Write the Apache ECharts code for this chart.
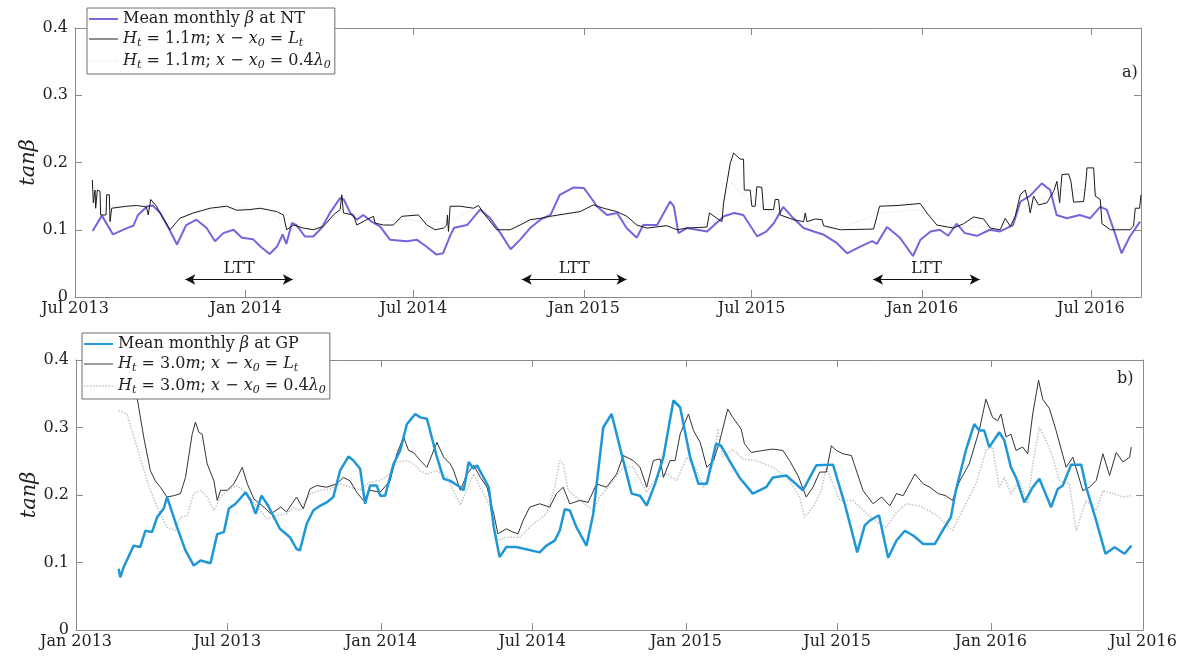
<!DOCTYPE html>
<html>
<head>
<meta charset="utf-8">
<script src="https://cdn.jsdelivr.net/npm/echarts@6/dist/echarts.min.js"></script>
<style>
html,body{margin:0;padding:0;background:#fff;}
#chart{width:1188px;height:659px;}
</style>
</head>
<body>
<div id="chart"></div>
<script>
// ---------- DATA ----------
// Panel a) Narrabeen (NT): x = days since 2013-07-01
const ntBase = '2013-07-01';
const ntEnd = '2016-08-24';
const ntTicks = ['2013-07-01','2014-01-01','2014-07-01','2015-01-01','2015-07-01','2016-01-01','2016-07-01'];

const ntMeanDays = [19,29,41,56,63,68,78,84,92,101,110,120,131,142,151,160,171,180,192,200,210,218,224,228,234,239,248,257,266,275,286,290,297,304,311,320,329,340,358,369,379,390,397,405,409,423,437,448,459,470,480,491,502,513,523,538,549,558,563,574,585,595,606,613,628,642,646,651,660,682,700,711,721,736,746,754,764,775,786,797,808,822,833,847,860,865,876,890,904,912,923,933,942,951,960,973,987,998,1012,1020,1030,1043,1052,1059,1070,1084,1095,1106,1113,1120,1129,1138,1149];
const ntMeanVals = [.098,.121,.093,.1025,.106,.122,.135,.136,.125,.1025,.078,.107,.115,.1025,.083,.095,.10,.088,.086,.075,.064,.075,.093,.079,.11,.107,.09,.09,.1025,.125,.147,.145,.125,.115,.122,.112,.105,.085,.083,.085,.075,.063,.065,.092,.103,.107,.13,.117,.095,.071,.085,.1025,.115,.122,.152,.163,.162,.145,.135,.122,.125,.1025,.088,.107,.107,.142,.135,.095,.1025,.0975,.12,.125,.122,.09,.0975,.11,.134,.117,.1025,.0975,.0925,.08,.065,.075,.083,.079,.104,.088,.061,.085,.0975,.10,.091,.109,.095,.091,.10,.0975,.107,.142,.15,.169,.159,.122,.117,.122,.117,.134,.13,.1025,.065,.09,.112];

const ntLtDays = [18.7,19.8,21.6,22.3,24.1,27,27.7,33.5,34.2,37,37.8,39.6,41.4,55.8,66.5,77,79,81.7,88,91.7,102.5,113,127.7,145.7,163.7,174.5,188.8,199.6,217.6,224.8,228.4,235.6,246.4,257.2,268,278.8,286,287.8,289.6,300.4,304,314.7,322,323.7,332.7,343.5,352.5,370.5,379.5,388.5,397.5,401,401.8,402.9,404.7,415.5,430,435.3,440.7,455,469.4,480.2,491,501.8,512.6,530.6,545,552.2,559.4,570.2,584.5,595.3,606.1,617,638.5,649.3,660.1,681.7,684.5,692.5,697.9,699.7,706.9,710.5,717.6,721.2,722,728.4,730.2,733.8,735.6,741,742.8,753.6,755.4,759,760.8,775.2,786,787.8,789.6,798.6,805.8,807.6,825.6,861.5,868,886.6,911.8,919,929.8,947.8,958.6,969.4,980.2,987.4,998.1,1003.5,1009,1014.3,1019.7,1025.1,1028.7,1030.5,1034.1,1039.5,1048.5,1055.7,1059.3,1062.2,1064.7,1071.9,1074.4,1077.3,1088.1,1090.6,1091.7,1098.9,1100.7,1106.1,1107.9,1116.9,1138.4,1142,1143.8,1148.5,1150];
const ntLtVals = [.174,.140,.159,.132,.159,.157,.122,.122,.152,.152,.112,.132,.134,.135,.136,.134,.122,.145,.135,.125,.10,.117,.125,.132,.135,.129,.13,.132,.127,.122,.10,.107,.1025,.10,.105,.122,.13,.152,.125,.122,.107,.115,.12,.11,.107,.107,.12,.122,.107,.10,.1025,.107,.122,.0975,.135,.135,.132,.136,.125,.10,.10,.107,.115,.117,.12,.124,.127,.132,.137,.132,.127,.12,.107,.1025,.106,.10,.1025,.104,.125,.117,.112,.14,.199,.214,.205,.205,.159,.159,.135,.135,.164,.163,.13,.13,.145,.145,.122,.115,.112,.125,.112,.116,.115,.106,.10,.101,.135,.136,.139,.125,.107,.1025,.109,.119,.116,.1025,.10,.117,.105,.12,.152,.159,.14,.125,.15,.137,.14,.157,.172,.14,.182,.183,.172,.141,.142,.172,.192,.192,.15,.145,.109,.10,.10,.106,.132,.132,.152];

const ntLamDays = [19,40,80,100,130,170,210,228,260,290,320,360,400,430,470,520,560,600,650,690,708,730,770,820,870,910,950,1000,1030,1070,1100,1115,1140];
const ntLamVals = [.155,.135,.13,.11,.125,.133,.13,.105,.10,.13,.115,.115,.11,.13,.105,.12,.13,.11,.105,.11,.17,.14,.115,.10,.125,.13,.105,.105,.14,.16,.16,.105,.10];

// LTT periods (panel a)
const lttStart = ['2013-10-28','2014-10-26','2015-11-09'];
const lttEnd   = ['2014-02-21','2015-02-16','2016-03-03'];
const lttLevel = 0.026;

// Panel b) Gold Coast (GP): x = days since 2013-01-01
const gpBase = '2013-01-01';
const gpEnd = '2016-07-01';
const gpTicks = ['2013-01-01','2013-07-01','2014-01-01','2014-07-01','2015-01-01','2015-07-01','2016-01-01','2016-07-01'];

const gpMeanDays = [51,53,57,69,77,83,91,97,105,109,121,131,141,149,161,169,177,183,191,203,209,215,222,230,244,256,264,268,276,284,292,300,308,316,326,332,340,346,352,360,364,370,380,388,396,406,412,420,432,440,448,460,464,470,476,480,494,500,507,515,527,555,563,573,579,585,591,599,611,619,631,641,655,665,675,683,693,703,715,723,735,745,755,766,772,782,794,810,826,834,850,870,886,906,914,920,935,944,950,961,972,982,992,1002,1014,1028,1037,1047,1053,1065,1075,1081,1087,1093,1105,1111,1119,1125,1135,1145,1153,1167,1175,1181,1191,1203,1209,1221,1232,1243,1255,1263];
const gpMeanVals = [.0906,.078,.093,.125,.123,.147,.145,.167,.18,.197,.152,.118,.0955,.103,.099,.142,.145,.18,.187,.204,.192,.172,.199,.184,.15,.1375,.12,.118,.157,.177,.184,.189,.197,.236,.257,.251,.239,.187,.214,.214,.199,.199,.246,.266,.305,.32,.315,.313,.256,.224,.221,.2115,.207,.249,.239,.244,.2115,.152,.108,.123,.123,.115,.125,.1325,.1475,.179,.177,.152,.125,.172,.30,.32,.251,.202,.199,.1845,.2165,.256,.34,.33,.256,.2165,.2165,.276,.273,.251,.226,.202,.2115,.226,.229,.207,.244,.245,.2115,.187,.115,.155,.162,.17,.107,.1325,.147,.14,.1275,.1275,.147,.167,.2065,.266,.305,.2955,.2955,.271,.293,.281,.241,.226,.189,.2115,.224,.182,.209,.214,.245,.245,.2115,.162,.113,.1225,.113,.125];

const gpLtDays = [55,73,81,89,95,101,109,117,125,131,139,143,147,151,157,165,169,173,181,189,199,205,213,225,233,245,252,264,272,280,288,300,312,320,328,336,344,352,364,376,384,392,398,404,412,420,432,440,448,452,460,468,476,484,492,500,505,515,523,529,535,543,555,567,575,583,591,603,613,623,635,647,655,667,675,683,691,699,703,711,717,723,733,739,747,755,763,770,780,786,796,800,808,822,834,846,854,864,874,882,890,898,904,910,918,928,934,942,954,964,974,982,990,1004,1014,1022,1032,1041,1049,1057,1069,1081,1089,1097,1103,1107,1113,1119,1125,1133,1139,1145,1152,1157,1165,1173,1185,1193,1205,1213,1221,1229,1237,1245,1253,1261,1263];
const gpLtVals = [.39,.345,.286,.236,.221,.2115,.197,.199,.202,.226,.29,.308,.293,.29,.246,.221,.192,.207,.207,.2165,.241,.2165,.194,.182,.172,.182,.175,.197,.1795,.209,.214,.2115,.2165,.226,.221,.204,.192,.207,.204,.2215,.261,.286,.266,.263,.251,.241,.278,.256,.246,.236,.207,.231,.244,.226,.2115,.172,.1425,.15,.145,.1425,.162,.182,.187,.182,.202,.2115,.187,.192,.189,.2165,.2115,.231,.2585,.251,.241,.2115,.251,.2535,.226,.251,.251,.29,.32,.2955,.278,.241,.251,.278,.3275,.315,.298,.276,.263,.266,.268,.266,.251,.229,.197,.2115,.234,.234,.273,.266,.261,.2585,.236,.2065,.187,.197,.184,.202,.199,.231,.2165,.2115,.202,.199,.192,.219,.246,.2955,.342,.315,.31,.32,.286,.29,.266,.271,.261,.32,.37,.342,.328,.2955,.241,.256,.2065,.2115,.2215,.261,.229,.263,.249,.256,.271];

const gpLamDays = [51,61,73,85,97,109,119,125,133,141,149,157,165,173,181,193,205,217,229,241,252,260,268,280,292,304,316,328,340,352,364,376,384,396,404,412,420,432,444,460,476,496,505,515,531,547,563,573,579,583,589,603,619,627,643,655,667,683,695,707,719,731,741,751,763,768,774,786,798,814,834,854,866,872,882,892,898,906,914,930,942,958,970,982,994,1010,1030,1049,1061,1077,1089,1097,1105,1111,1119,1129,1139,1145,1153,1161,1169,1177,1189,1197,1209,1221,1229,1241,1253,1263];
const gpLamVals = [.325,.32,.271,.2215,.182,.152,.1475,.167,.1695,.202,.207,.197,.177,.197,.207,.214,.202,.182,.1645,.1695,.172,.182,.177,.202,.207,.209,.2165,.2115,.207,.219,.2215,.231,.249,.251,.246,.236,.231,.236,.2265,.185,.231,.182,.1325,.1375,.1375,.157,.172,.2115,.251,.246,.207,.192,.177,.197,.2215,.241,.241,.204,.2265,.231,.2215,.256,.241,.2115,.246,.298,.256,.268,.2535,.251,.241,.2215,.197,.167,.182,.207,.241,.2165,.192,.192,.177,.16,.152,.1745,.187,.184,.17,.1475,.177,.2165,.266,.271,.2115,.2265,.2015,.2215,.187,.246,.30,.281,.256,.2215,.2165,.1475,.192,.177,.2065,.202,.197,.199];

const yTicks = {min: 0, max: 0.4, interval: 0.1};

// ---------- BUILD ----------
const DAY = 86400000;
const t = s => Date.parse(s + 'T00:00:00Z');
const pts = (base, days, vals) => days.map((d, i) => [t(base) + d * DAY, vals[i]]);

const FONT = 'DejaVu Serif';
const TXT = '#222';
const AX = '#8a8a8a';

const names = {
  ntMean: 'Mean monthly β at NT',
  ntLt: 'Ht = 1.1m; x − x0 = Lt',
  ntLam: 'Ht = 1.1m; x − x0 = 0.4λ0',
  gpMean: 'Mean monthly β at GP',
  gpLt: 'Ht = 3.0m; x − x0 = Lt',
  gpLam: 'Ht = 3.0m; x − x0 = 0.4λ0'
};
const richNames = {};
richNames[names.ntMean] = 'Mean monthly {i|β} at NT';
richNames[names.ntLt] = '{i|H}{s|t}{n| = 1.1}{i|m}{n|; }{i|x}{n| − }{i|x}{s|0}{n| = }{i|L}{s|t}';
richNames[names.ntLam] = '{i|H}{s|t}{n| = 1.1}{i|m}{n|; }{i|x}{n| − }{i|x}{s|0}{n| = 0.4}{i|λ}{s|0}';
richNames[names.gpMean] = 'Mean monthly {i|β} at GP';
richNames[names.gpLt] = '{i|H}{s|t}{n| = 3.0}{i|m}{n|; }{i|x}{n| − }{i|x}{s|0}{n| = }{i|L}{s|t}';
richNames[names.gpLam] = '{i|H}{s|t}{n| = 3.0}{i|m}{n|; }{i|x}{n| − }{i|x}{s|0}{n| = 0.4}{i|λ}{s|0}';

const rich = {
  i: {fontFamily: FONT, fontStyle: 'italic', fontSize: 16, color: TXT},
  n: {fontFamily: FONT, fontSize: 16, color: TXT},
  s: {fontFamily: FONT, fontStyle: 'italic', fontSize: 11, color: TXT, padding: [9, 0, 0, 0]}
};

// legend line samples (no marker), as in the reference
const iconSolid2 = 'path://M0,0h30v2h-30z';
const iconSolid1 = 'path://M0,0h30v1h-30z';
let dots = '';
for (let k = 0; k < 10; k++) dots += 'M' + (k * 3) + ',0h1.5v1.5h-1.5z';
const iconDotted = 'path://' + dots;

const monthName = v => {
  const d = new Date(v);
  return (d.getUTCMonth() === 0 ? 'Jan ' : 'Jul ') + d.getUTCFullYear();
};

function xAxes(grid, base, end, ticks) {
  const vals = ticks.map(t);
  const common = {
    gridIndex: grid, type: 'value', min: t(base), max: t(end), scale: true,
    axisLine: {show: true, onZero: false, lineStyle: {color: AX, width: 1}},
    axisTick: {show: true, inside: true, length: 7, customValues: vals, lineStyle: {color: AX}},
    splitLine: {show: false}, minorTick: {show: false}
  };
  return [
    Object.assign({}, common, {position: 'bottom',
      axisLabel: {show: true, customValues: vals, formatter: monthName, fontFamily: FONT, fontSize: 16, color: TXT, margin: 4, hideOverlap: false, showMinLabel: true, showMaxLabel: true}}),
    Object.assign({}, common, {position: 'top', axisLabel: {show: false}})
  ];
}
function yAxes(grid) {
  const common = {
    gridIndex: grid, type: 'value', min: yTicks.min, max: yTicks.max, interval: yTicks.interval,
    axisLine: {show: true, onZero: false, lineStyle: {color: AX, width: 1}},
    axisTick: {show: true, inside: true, length: 7, lineStyle: {color: AX}},
    splitLine: {show: false}
  };
  return [
    Object.assign({}, common, {position: 'left',
      axisLabel: {show: true, fontFamily: FONT, fontSize: 16, color: TXT, margin: 7},
      name: 'tanβ', nameLocation: 'middle', nameGap: 36, nameRotate: 90, nameMoveOverlap: false,
      nameTextStyle: {fontFamily: FONT, fontStyle: 'italic', fontSize: 21, color: TXT}}),
    Object.assign({}, common, {position: 'right', axisLabel: {show: false}})
  ];
}

const legendBase = {
  orient: 'vertical', itemGap: 4, itemWidth: 29, itemHeight: 14, symbolKeepAspect: true,
  padding: [3, 4, 3, 2], borderColor: '#6e6e6e', borderWidth: 1, backgroundColor: '#fff',
  selectedMode: false,
  formatter: name => richNames[name],
  textStyle: {fontFamily: FONT, fontSize: 16, color: TXT, rich: rich}
};

const lineSeries = (name, xi, yi, data, color, width, type, z) => ({
  name, type: 'line', xAxisIndex: xi, yAxisIndex: yi, data,
  symbol: 'none', showSymbol: false, silent: true, z,
  lineStyle: {color, width, type}, itemStyle: {color},
  emphasis: {disabled: true}
});

const ntMean = lineSeries(names.ntMean, 0, 0, pts(ntBase, ntMeanDays, ntMeanVals), '#7a62dc', 2, 'solid', 3);
ntMean.markLine = {
  silent: true, symbol: ['arrow', 'arrow'], symbolSize: [8, 10], animation: false,
  lineStyle: {color: '#111', width: 1, type: 'solid'},
  label: {show: true, formatter: 'LTT', position: 'middle', distance: 3, fontFamily: FONT, fontSize: 16, color: TXT},
  emphasis: {disabled: true},
  data: lttStart.map((s, i) => [{coord: [t(s), lttLevel]}, {coord: [t(lttEnd[i]), lttLevel]}])
};

const option = {
  animation: false,
  backgroundColor: '#fff',
  grid: [
    {left: 75, top: 28, width: 1066, height: 269, containLabel: false},
    {left: 76, top: 360, width: 1067, height: 270, containLabel: false}
  ],
  xAxis: xAxes(0, ntBase, ntEnd, ntTicks).concat(xAxes(1, gpBase, gpEnd, gpTicks)),
  yAxis: yAxes(0).concat(yAxes(1)),
  title: [
    {text: 'a)', left: 1122, top: 65, padding: 0, textStyle: {fontFamily: FONT, fontSize: 16, fontWeight: 'normal', color: TXT}},
    {text: 'b)', left: 1117, top: 371, padding: 0, textStyle: {fontFamily: FONT, fontSize: 16, fontWeight: 'normal', color: TXT}}
  ],
  legend: [
    Object.assign({}, legendBase, {left: 87, top: 8, data: [
      {name: names.ntMean, icon: iconSolid2},
      {name: names.ntLt, icon: iconSolid1},
      {name: names.ntLam, icon: iconDotted}]}),
    Object.assign({}, legendBase, {left: 82, top: 333, data: [
      {name: names.gpMean, icon: iconSolid2},
      {name: names.gpLt, icon: iconSolid1},
      {name: names.gpLam, icon: iconDotted}]})
  ],
  series: [
    lineSeries(names.ntLam, 0, 0, pts(ntBase, ntLamDays, ntLamVals), '#ececec', 1.5, 'dotted', 2),
    ntMean,
    lineSeries(names.ntLt, 0, 0, pts(ntBase, ntLtDays, ntLtVals), '#1a1a1a', 1, 'solid', 4),
    lineSeries(names.gpLam, 2, 2, pts(gpBase, gpLamDays, gpLamVals), '#c4c4c4', 1.5, 'dotted', 2),
    lineSeries(names.gpLt, 2, 2, pts(gpBase, gpLtDays, gpLtVals), '#333333', 1, 'solid', 3),
    lineSeries(names.gpMean, 2, 2, pts(gpBase, gpMeanDays, gpMeanVals), '#1f97d6', 2.5, 'solid', 4)
  ]
};
const chart = echarts.init(document.getElementById('chart'), null, {renderer: 'canvas'});
chart.setOption(option);
</script>
</body>
</html>
